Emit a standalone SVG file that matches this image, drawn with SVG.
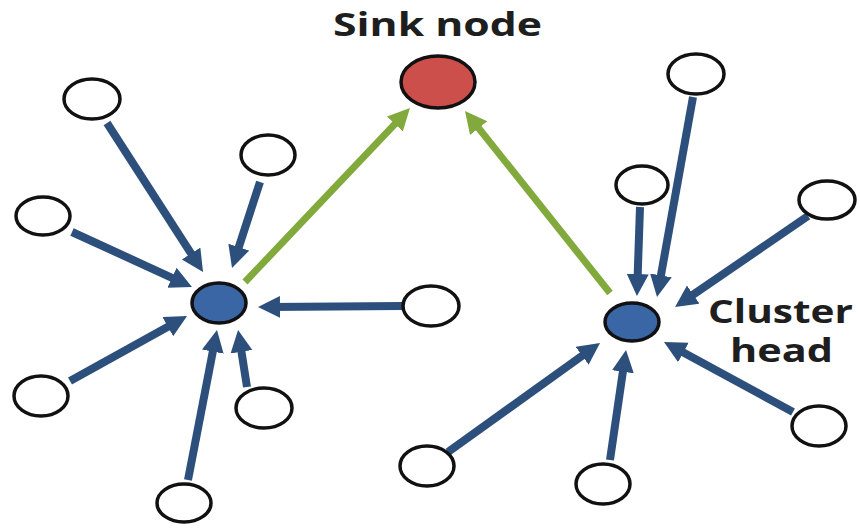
<svg xmlns="http://www.w3.org/2000/svg" width="860" height="529" viewBox="0 0 860 529">
<style>
.leaf{fill:#fff;stroke:#111;stroke-width:3.5}
.ch{fill:#3a66a6;stroke:#111;stroke-width:3.5}
.sink{fill:#cc4f4b;stroke:#111;stroke-width:3.5}
.b{stroke:#2c4f7c;stroke-width:8;fill:none;marker-end:url(#hb)}
.g{stroke:#82a93c;stroke-width:7;fill:none;marker-end:url(#hg)}
.lbl{font-family:"Open Sans","Liberation Sans",sans-serif;font-weight:bold;font-size:33px;fill:#1e1e1e}
</style>
<defs>
<marker id="hb" markerUnits="userSpaceOnUse" markerWidth="24" markerHeight="24" refX="12" refY="11" orient="auto"><path d="M0,0 L22,11 L0,22 z" fill="#2c4f7c"/></marker>
<marker id="hg" markerUnits="userSpaceOnUse" markerWidth="24" markerHeight="24" refX="12" refY="11" orient="auto"><path d="M0,0 L22,11 L0,22 z" fill="#82a93c"/></marker>
</defs>
<rect width="860" height="529" fill="#fff"/>
<g id="connectors">
<line class="b" x1="107" y1="123" x2="197.6" y2="263.6"/>
<line class="b" x1="260" y1="182" x2="235.1" y2="258.5"/>
<line class="b" x1="72" y1="232" x2="182.9" y2="282.8"/>
<line class="b" x1="402" y1="306" x2="268" y2="307"/>
<line class="b" x1="70" y1="381" x2="178.3" y2="320.9"/>
<line class="b" x1="247" y1="387" x2="239.6" y2="339.9"/>
<line class="b" x1="188" y1="480" x2="215.1" y2="339.8"/>
<line class="g" x1="245" y1="282" x2="403.1" y2="115.3"/>
<line class="g" x1="610" y1="293" x2="471.2" y2="118.8"/>
<line class="b" x1="693" y1="97" x2="658.8" y2="287.2"/>
<line class="b" x1="640" y1="207" x2="637.3" y2="286"/>
<line class="b" x1="808" y1="216" x2="683.3" y2="301.4"/>
<line class="b" x1="448" y1="452" x2="591.9" y2="348.8"/>
<line class="b" x1="610" y1="460" x2="624.6" y2="359.9"/>
<line class="b" x1="793" y1="412" x2="672.8" y2="346.8"/>
</g>
<g id="sink"><ellipse class="sink" cx="438" cy="82" rx="37" ry="26"/><text class="lbl" x="333" y="36" textLength="209" lengthAdjust="spacingAndGlyphs">Sink node</text></g>
<g id="ch-left"><ellipse class="ch" cx="219" cy="303" rx="27" ry="20"/></g>
<g id="ch-right"><ellipse class="ch" cx="632" cy="322" rx="27" ry="19"/><text class="lbl" x="708" y="323" textLength="145" lengthAdjust="spacingAndGlyphs">Cluster</text><text class="lbl" x="730" y="362" textLength="103" lengthAdjust="spacingAndGlyphs">head</text></g>
<g id="n1"><ellipse class="leaf" cx="92" cy="99" rx="28" ry="20"/></g>
<g id="n2"><ellipse class="leaf" cx="268" cy="155" rx="27" ry="20"/></g>
<g id="n3"><ellipse class="leaf" cx="43" cy="216" rx="27" ry="19"/></g>
<g id="n4"><ellipse class="leaf" cx="431" cy="306" rx="28" ry="20"/></g>
<g id="n5"><ellipse class="leaf" cx="41" cy="396" rx="27" ry="20"/></g>
<g id="n6"><ellipse class="leaf" cx="264" cy="408" rx="28" ry="20"/></g>
<g id="n7"><ellipse class="leaf" cx="184" cy="503" rx="27" ry="19"/></g>
<g id="n8"><ellipse class="leaf" cx="696" cy="74" rx="28" ry="20"/></g>
<g id="n9"><ellipse class="leaf" cx="642" cy="185" rx="26" ry="19"/></g>
<g id="n10"><ellipse class="leaf" cx="827" cy="200" rx="28" ry="19"/></g>
<g id="n11"><ellipse class="leaf" cx="427" cy="466" rx="27" ry="20"/></g>
<g id="n12"><ellipse class="leaf" cx="603" cy="484" rx="27" ry="20"/></g>
<g id="n13"><ellipse class="leaf" cx="819" cy="426" rx="27" ry="20"/></g>
</svg>
